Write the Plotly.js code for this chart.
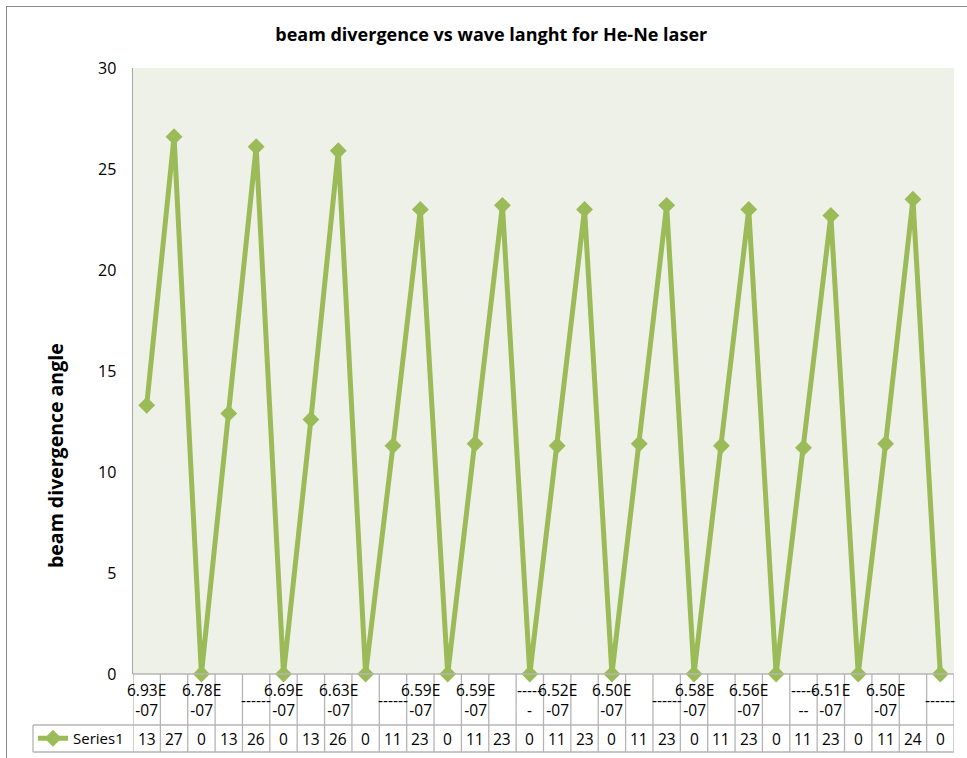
<!DOCTYPE html>
<html>
<head>
<meta charset="utf-8">
<script src="https://cdn.plot.ly/plotly-3.0.1.min.js"></script>
<style>
html,body{margin:0;padding:0;background:#fff;}
#wrap{position:relative;width:967px;height:758px;}
#frame{position:absolute;left:6px;top:6px;width:970px;height:760px;border:1px solid #8c8c8c;box-sizing:border-box;pointer-events:none;}
#chart{position:absolute;left:0;top:0;width:967px;height:758px;}
</style>
</head>
<body>
<div id="wrap"><div id="chart"></div><div id="frame"></div></div>
<script>
// ---- data ----
var chartTitle = "beam divergence vs wave langht for He-Ne laser";
var yTitle = "beam divergence angle";
var seriesName = "Series1";
var categoryLabels = [
  "6.93E<br>-07", "", "6.78E<br>-07", "", "------", "6.69E<br>-07", "", "6.63E<br>-07", "", "------",
  "6.59E<br>-07", "", "6.59E<br>-07", "", "-----<br>-", "6.52E<br>-07", "", "6.50E<br>-07", "", "------",
  "6.58E<br>-07", "", "6.56E<br>-07", "", "-----<br>--", "6.51E<br>-07", "", "6.50E<br>-07", "", "------"
];
var divergence = [
  13.3, 26.6, 0, 12.9, 26.1, 0, 12.6, 25.9, 0, 11.3,
  23.0, 0, 11.4, 23.2, 0, 11.3, 23.0, 0, 11.4, 23.2,
  0, 11.3, 23.0, 0, 11.2, 22.7, 0, 11.4, 23.5, 0
];
var yTicks = [0, 5, 10, 15, 20, 25, 30];

// ---- chart ----
var green = "#9BBB59";
var gridCol = "#B4B4B4";
var fontFam = "Open Sans, Liberation Sans, sans-serif";
var idx = divergence.map(function(_, i){ return i; });

var trace = {
  x: idx, y: divergence, type: "scatter", mode: "lines+markers", name: seriesName,
  line: {color: green, width: 5},
  marker: {symbol: "diamond", size: 13, color: green},
  showlegend: true, cliponaxis: false
};

// table geometry in paper units (plot area 821 x 606 px)
var rowSplit = -51/606, rowBottom = -78/606, tableLeft = -100/821;

var shapes = [];
for (var k = 0; k <= divergence.length; k++) {
  shapes.push({type:"line", xref:"x", yref:"paper", x0:k-0.5, x1:k-0.5, y0:0, y1:rowBottom,
    line:{color:gridCol, width:1.3}});
}
shapes.push({type:"line", xref:"paper", yref:"paper", x0:tableLeft, x1:1, y0:rowSplit, y1:rowSplit, line:{color:gridCol, width:1.3}});
shapes.push({type:"line", xref:"paper", yref:"paper", x0:tableLeft, x1:1, y0:rowBottom, y1:rowBottom, line:{color:gridCol, width:1.3}});
shapes.push({type:"line", xref:"paper", yref:"paper", x0:tableLeft, x1:tableLeft, y0:rowSplit, y1:rowBottom, line:{color:gridCol, width:1.3}});
shapes.push({type:"line", xref:"paper", yref:"paper", x0:0, x1:1, y0:0, y1:0, line:{color:gridCol, width:1.3}});

var annotations = [];
categoryLabels.forEach(function(t, i){
  if (!t) return;
  annotations.push({xref:"x", yref:"paper", x:i, y:rowSplit/2, text:t, showarrow:false,
    xanchor:"center", yanchor:"middle", font:{family:fontFam, size:15.5, color:"#000"}});
});
divergence.forEach(function(v, i){
  annotations.push({xref:"x", yref:"paper", x:i, y:(rowSplit+rowBottom)/2, text:String(Math.round(v)),
    showarrow:false, xanchor:"center", yanchor:"middle", font:{family:fontFam, size:15.5, color:"#000"}});
});
annotations.push({xref:"paper", yref:"paper", x:-78/821, y:(674-456)/606, text:"<b>"+yTitle+"</b>",
  textangle:-90, showarrow:false, xanchor:"center", yanchor:"middle", font:{family:fontFam, size:19.5, color:"#000"}});

var layout = {
  width: 967, height: 758,
  margin: {l:133, r:13, t:68, b:84, autoexpand:false},
  paper_bgcolor: "rgba(0,0,0,0)",
  plot_bgcolor: "#EEF1E8",
  title: {text: "<b>"+chartTitle+"</b>", x: 0.508, xanchor:"center", y: 1-35/758, yanchor:"middle",
    font:{family:fontFam, size:18, color:"#000"}},
  xaxis: {range:[-0.5, divergence.length-0.5], showticklabels:false, showgrid:false, zeroline:false,
    showline:false, ticks:"", fixedrange:true},
  yaxis: {range:[0,30], tickvals:yTicks, ticktext:yTicks.map(String), showgrid:false, zeroline:false,
    showline:true, linecolor:"#A6A6A6", linewidth:1.5, ticks:"outside", ticklen:12, tickcolor:"rgba(0,0,0,0)",
    tickfont:{family:fontFam, size:16, color:"#000"}, fixedrange:true},
  showlegend: true,
  legend: {x: tableLeft, xanchor:"left", y:(rowSplit+rowBottom)/2, yanchor:"middle", orientation:"h",
    bgcolor:"rgba(0,0,0,0)", font:{family:fontFam, size:15, color:"#000"}, itemwidth:30, tracegroupgap:0},
  shapes: shapes,
  annotations: annotations
};

Plotly.newPlot("chart", [trace], layout, {staticPlot:true, displayModeBar:false});
</script>
</body>
</html>
